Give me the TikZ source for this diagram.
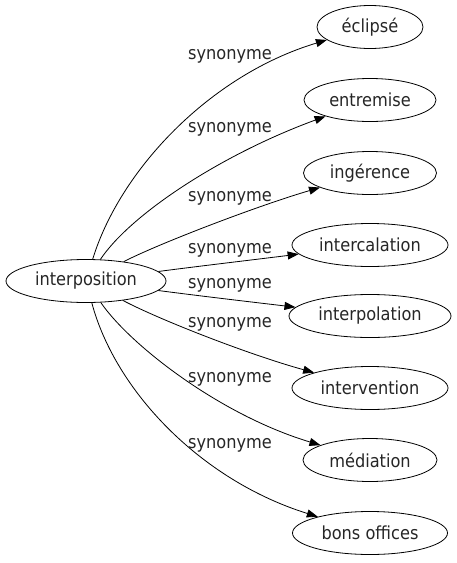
\documentclass[tikz,border=0pt]{standalone}
\usepackage{fontspec}
\setmainfont{DejaVu Sans Condensed}
\usetikzlibrary{shapes.geometric,arrows.meta}
\begin{document}
\begin{tikzpicture}[x=1pt,y=-1pt,
  word/.style={draw,ellipse,inner sep=0pt,minimum height=43pt,line width=0.8pt,
    font=\fontsize{18pt}{21pt}\selectfont,text=black!85},
  rel/.style={font=\fontsize{18pt}{21pt}\selectfont,text=black!85,anchor=base,inner sep=0pt},
  link/.style={line width=0.8pt,-{Triangle[length=11pt,width=8pt]}}]
\useasboundingbox (0,0) rectangle (456,563);
\node[word,minimum width=160pt] (src) at (86,281) {interposition};
\node[word,minimum width=106pt] (t1) at (370,27) {éclipsé};
\node[word,minimum width=132pt] (t2) at (370,100) {entremise};
\node[word,minimum width=133pt] (t3) at (370,173) {ingérence};
\node[word,minimum width=156pt] (t4) at (370,245) {intercalation};
\node[word,minimum width=162pt] (t5) at (370,316) {interpolation};
\node[word,minimum width=156pt] (t6) at (370,388) {intervention};
\node[word,minimum width=134pt] (t7) at (370,460) {médiation};
\node[word,minimum width=155pt] (t8) at (370,533) {bons offices};
\draw[link] (src) .. controls (120,170) and (210,75) .. (t1);
\draw[link] (src) .. controls (130,215) and (220,155) .. (t2);
\draw[link] (src) .. controls (160,243) and (260,205) .. (t3);
\draw[link] (src) .. controls (200,266) and (260,259) .. (t4);
\draw[link] (src) .. controls (200,296) and (260,303) .. (t5);
\draw[link] (src) .. controls (160,320) and (250,355) .. (t6);
\draw[link] (src) .. controls (130,345) and (220,415) .. (t7);
\draw[link] (src) .. controls (115,390) and (200,480) .. (t8);
\node[rel] (l1) at (230,59) {synonyme};
\node[rel] (l2) at (230,132) {synonyme};
\node[rel] (l3) at (230,201) {synonyme};
\node[rel] (l4) at (230,253) {synonyme};
\node[rel] (l5) at (230,288) {synonyme};
\node[rel] (l6) at (230,327) {synonyme};
\node[rel] (l7) at (230,382) {synonyme};
\node[rel] (l8) at (230,448) {synonyme};
\end{tikzpicture}
\end{document}
